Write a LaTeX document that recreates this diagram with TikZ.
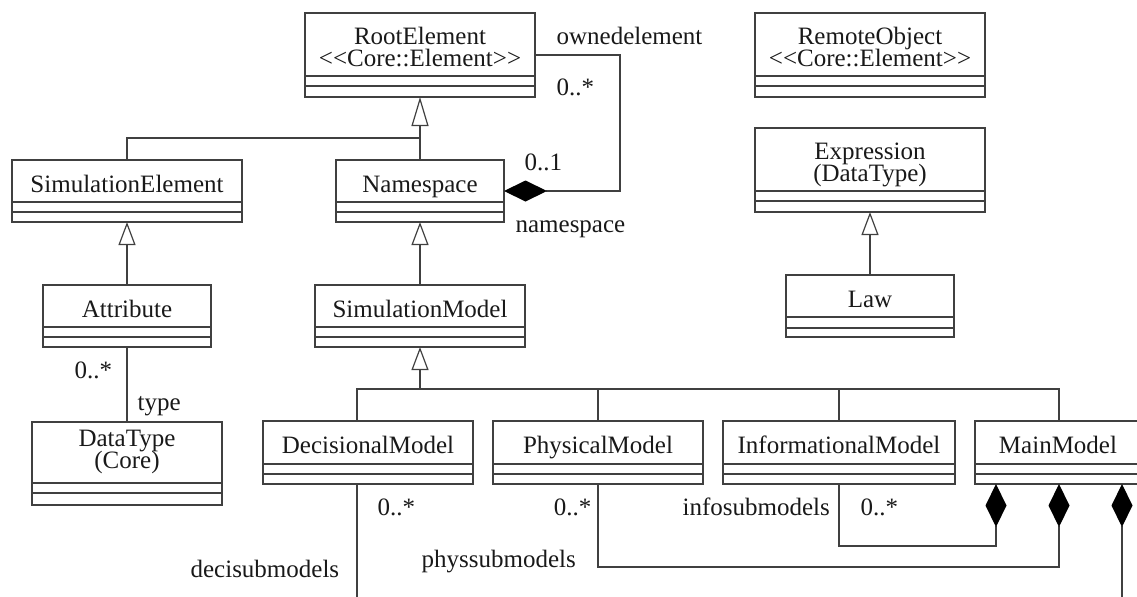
\documentclass[tikz,border=0pt]{standalone}
\usepackage{fontspec}
\setmainfont{Liberation Serif}
\usetikzlibrary{arrows.meta}
\newcommand\umlcls[7]{%
  \node[clsbox, anchor=north west, minimum width={(#4-#2)*0.5pt}, minimum height={(#5-#3)*0.5pt}] (#1) at (#2,#3) {};
  \draw[sepline] (#2,#6) -- (#4,#6) (#2,#7) -- (#4,#7);
}
\begin{document}
\begin{tikzpicture}[x=0.5pt,y=-0.5pt, line width=0.6pt,
  clsbox/.style={draw=black!75, rectangle, inner sep=0pt, outer sep=0pt},
  sepline/.style={draw=black!75},
  lbl/.style={font=\fontsize{12.5}{14}\selectfont, text=black!90, inner sep=0pt},
  gen/.style={draw=black!75, -{Triangle[open,length=11.5pt,width=8.5pt]}},
  genl/.style={draw=black!75, -{Triangle[open,length=14.5pt,width=8.5pt]}},
  comp/.style={draw=black!75, {Diamond[length=21.5pt,width=10.5pt,color=black]}-},
  conn/.style={draw=black!75}]
\useasboundingbox (0,0) rectangle (1137,596);
\clip (0,0) rectangle (1137,596);

% classes
\umlcls{root}{305}{13}{535}{97}{76}{86}
\umlcls{remote}{755}{13}{985}{97}{76}{86}
\umlcls{expr}{755}{128}{985}{212}{191}{201}
\umlcls{simel}{12}{160}{242}{222}{202}{212}
\umlcls{ns}{336}{160}{504}{222}{202}{212}
\umlcls{attr}{43}{285}{211}{347}{327}{337}
\umlcls{simmod}{315}{285}{525}{347}{327}{337}
\umlcls{law}{786}{275}{954}{337}{317}{328}
\umlcls{dt}{32}{422}{222}{505}{483}{493}
\umlcls{dec}{263}{421}{473}{484}{464}{474}
\umlcls{phys}{493}{421}{703}{484}{464}{474}
\umlcls{info}{723}{421}{955}{484}{464}{474}
\umlcls{main}{975}{421}{1141}{484}{464}{474}

% class names
\node[lbl,anchor=base] (rootA) at (420,44) {RootElement};
\node[lbl,anchor=base] (rootB) at (420,66) {<\kern0pt<Core::Element>\kern0pt>};
\node[lbl,anchor=base] (remoteA) at (870,44) {RemoteObject};
\node[lbl,anchor=base] (remoteB) at (870,66) {<\kern0pt<Core::Element>\kern0pt>};
\node[lbl,anchor=base] (exprA) at (870,159) {Expression};
\node[lbl,anchor=base] (exprB) at (870,181) {(DataType)};
\node[lbl,anchor=base] (simelA) at (127,192.5) {SimulationElement};
\node[lbl,anchor=base] (nsA) at (420,192.5) {Namespace};
\node[lbl,anchor=base] (attrA) at (127,317.5) {Attribute};
\node[lbl,anchor=base] (simmodA) at (420,317.5) {SimulationModel};
\node[lbl,anchor=base] (lawA) at (870,307) {Law};
\node[lbl,anchor=base] (dtA) at (127,446) {DataType};
\node[lbl,anchor=base] (dtB) at (127,468) {(Core)};
\node[lbl,anchor=base] (decA) at (368,453.5) {DecisionalModel};
\node[lbl,anchor=base] (physA) at (598,453.5) {PhysicalModel};
\node[lbl,anchor=base] (infoA) at (839,453.5) {InformationalModel};
\node[lbl,anchor=base] (mainA) at (1058,453.5) {MainModel};

% generalizations
\coordinate (jr) at (420,138);
\draw[genl] (ns.north) -- (root.south);
\draw[conn] (simel.north) |- (jr);
\draw[gen] (attr.north) -- (simel.south);
\draw[gen] (simmod.north) -- (ns.south);
\draw[gen] (law.north) -- (expr.south);
\coordinate (bar) at (420,389);
\coordinate (decT) at (357,421);
\coordinate (mainT) at (1059,421);
\draw[gen] (bar) -- (simmod.south);
\draw[conn] (decT) |- (mainT |- bar) -- (mainT);
\draw[conn] (phys.north) -- (phys.north |- bar);
\draw[conn] (info.north) -- (info.north |- bar);

% associations
\coordinate (c1) at (620,191);
\draw[comp] (ns.east) -- (c1) |- (root.east);
\draw[conn] (attr.south) -- (dt.north);

\coordinate (m1) at (996,484);
\coordinate (m1b) at (996,546);
\coordinate (m2) at (1059,484);
\coordinate (m2b) at (1059,567);
\coordinate (m3) at (1122,484);
\coordinate (m3b) at (1122,600);
\coordinate (decB) at (357,484);
\coordinate (decE) at (357,600);
\draw[comp] (m1) -- (m1b) -| (info.south);
\draw[comp] (m2) -- (m2b) -| (phys.south);
\draw[comp] (m3) -- (m3b);
\draw[conn] (decB) -- (decE);

% labels
\node[lbl,anchor=base west] (l1) at (556,44) {ownedelement};
\node[lbl,anchor=base west] (l2) at (556,95) {0..*};
\node[lbl,anchor=base west] (l3) at (524,170) {0..1};
\node[lbl,anchor=base west] (l4) at (515,232) {namespace};
\node[lbl,anchor=base west] (l5) at (74,378) {0..*};
\node[lbl,anchor=base west] (l6) at (137,410) {type};
\node[lbl,anchor=base west] (l7) at (377,515) {0..*};
\node[lbl,anchor=base east] (l8) at (592,515) {0..*};
\node[lbl,anchor=base west] (l9) at (190,577) {decisubmodels};
\node[lbl,anchor=base west] (l10) at (421,567) {physsubmodels};
\node[lbl,anchor=base west] (l11) at (682,515) {infosubmodels};
\node[lbl,anchor=base west] (l12) at (860,515) {0..*};
\end{tikzpicture}
\end{document}
